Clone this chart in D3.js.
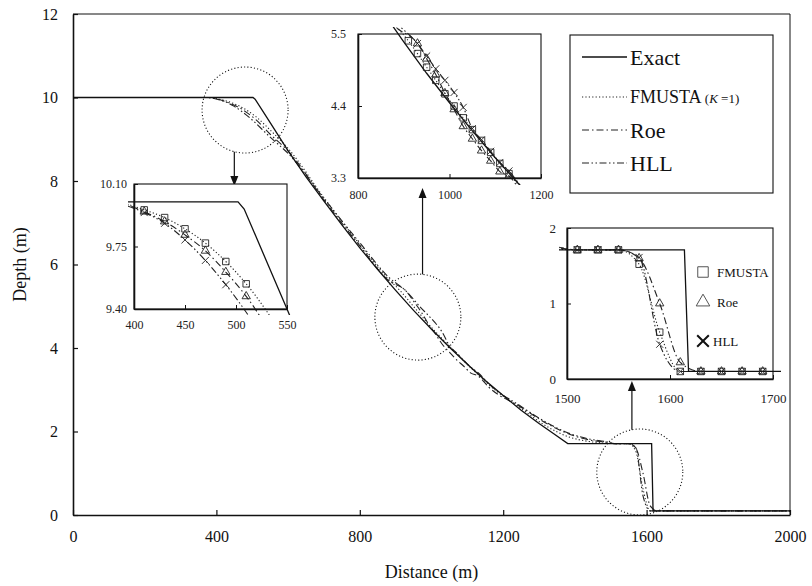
<!DOCTYPE html>
<html>
<head>
<meta charset="utf-8">
<script src="https://cdn.jsdelivr.net/npm/d3@7"></script>
<style>
  body { margin: 0; background: #fff; }
  svg, svg text { font-family: "Liberation Serif", "Times New Roman", "DejaVu Serif", serif; }
</style>
</head>
<body>
<svg id="chart" width="812" height="586"></svg>
<script>
// ---- data: [distance (m), depth (m)] ----
const exact = [[0, 10], [502, 10], [508, 9.96], [550, 9.40], [600, 8.72], [650, 8.10], [700, 7.52],
  [750, 6.95], [800, 6.40], [850, 5.88], [900, 5.38], [950, 4.90], [1000, 4.45], [1050, 4.02],
  [1100, 3.61], [1150, 3.22], [1200, 2.86], [1250, 2.51], [1300, 2.19], [1340, 1.95], [1380, 1.71],
  [1614, 1.71], [1618, 0.1], [2000, 0.1]];

// numerical solutions away from the zoomed windows
const fmustaMain = [[0, 10], [380, 10], [550, 9.22], [600, 8.78], [700, 7.60], [800, 6.48], [880, 5.65],
  [1160, 3.12], [1250, 2.55], [1320, 2.13], [1380, 1.88], [1440, 1.76], [1490, 1.72], [1710, 0.1], [2000, 0.1]];
const roeMain = [[0, 10], [380, 10], [550, 9.12], [600, 8.72], [700, 7.55], [800, 6.45], [880, 5.62],
  [1160, 3.06], [1250, 2.58], [1320, 2.20], [1380, 1.95], [1440, 1.80], [1490, 1.74], [1710, 0.1], [2000, 0.1]];
const hllMain = [[0, 10], [370, 10], [550, 9.05], [600, 8.66], [700, 7.58], [800, 6.52], [880, 5.70],
  [1160, 3.14], [1250, 2.60], [1320, 2.22], [1380, 1.97], [1440, 1.82], [1490, 1.75], [1710, 0.1], [2000, 0.1]];

// marker points shown in the zoom windows
const fmustaTop = [[410, 9.955], [430, 9.912], [450, 9.849], [470, 9.769], [490, 9.666], [510, 9.541]];
const roeTop = [[410, 9.945], [430, 9.890], [450, 9.815], [470, 9.726], [490, 9.607], [510, 9.471]];
const hllTop = [[410, 9.940], [430, 9.880], [450, 9.787], [470, 9.672], [490, 9.536]];

const fmustaMid = [[910, 5.396], [930, 5.201], [950, 4.993], [970, 4.792], [990, 4.586], [1010, 4.40],
  [1030, 4.219], [1050, 4.039], [1070, 3.874], [1090, 3.692], [1110, 3.522], [1130, 3.367]];
const roeMid = [[930, 5.355], [950, 5.123], [970, 4.880], [990, 4.596], [1010, 4.348], [1030, 4.090],
  [1050, 3.899], [1070, 3.718], [1090, 3.563], [1110, 3.398], [1130, 3.33]];
const hllMid = [[930, 5.355], [950, 5.164], [970, 4.968], [990, 4.792], [1010, 4.607], [1030, 4.379],
  [1050, 4.054], [1070, 3.884], [1090, 3.708], [1110, 3.537], [1130, 3.408]];

const fmustaFront = [[1510, 1.71], [1530, 1.71], [1550, 1.71], [1570, 1.52], [1590, 0.62], [1610, 0.10],
  [1630, 0.10], [1650, 0.10], [1670, 0.10], [1690, 0.10]];
const roeFront = [[1510, 1.71], [1530, 1.71], [1550, 1.71], [1570, 1.60], [1590, 1.00], [1610, 0.22],
  [1630, 0.10], [1650, 0.10], [1670, 0.10], [1690, 0.10]];
const hllFront = [[1510, 1.71], [1530, 1.71], [1550, 1.71], [1570, 1.61], [1590, 0.46], [1610, 0.10],
  [1630, 0.10], [1650, 0.10], [1670, 0.10], [1690, 0.10]];

const xTicks = [0, 400, 800, 1200, 1600, 2000];
const yTicks = [0, 2, 4, 6, 8, 10, 12];
const legendNames = ["Exact", "FMUSTA", "Roe", "HLL"];

// ---- drawing ----
const SERIF = '"Liberation Serif", "Times New Roman", "DejaVu Serif", serif';
const merge = (...parts) => [].concat(...parts).sort((a, b) => a[0] - b[0]);
const fmusta = merge(fmustaMain, fmustaTop, fmustaMid, fmustaFront);
const roe = merge(roeMain, roeTop, roeMid, roeFront);
const hll = merge(hllMain, hllTop, hllMid, hllFront);

const styles = {
  Exact: { dash: null, w: 1.3, c: "#111", curve: d3.curveLinear },
  FMUSTA: { dash: "1.2,2.2", w: 1.1, c: "#222", curve: d3.curveMonotoneX },
  Roe: { dash: "7,3,1.5,3", w: 1.1, c: "#222", curve: d3.curveMonotoneX },
  HLL: { dash: "7,2.5,1.5,2.5,1.5,2.5", w: 1.1, c: "#222", curve: d3.curveMonotoneX }
};
const seriesData = { Exact: exact, FMUSTA: fmusta, Roe: roe, HLL: hll };

const svg = d3.select("#chart");
svg.append("rect").attr("width", 812).attr("height", 586).attr("fill", "#fff");

const x = d3.scaleLinear().domain([0, 2000]).range([73, 790]);
const y = d3.scaleLinear().domain([0, 12]).range([515, 14]);

function drawSeries(g, sx, sy, clip) {
  ["HLL", "Roe", "FMUSTA", "Exact"].forEach(name => {
    const st = styles[name];
    const line = d3.line().x(d => sx(d[0])).y(d => sy(d[1])).curve(st.curve);
    g.append("path")
      .datum(seriesData[name])
      .attr("d", line)
      .attr("fill", "none")
      .attr("stroke", st.c)
      .attr("stroke-width", st.w)
      .attr("stroke-dasharray", st.dash)
      .attr("clip-path", clip ? `url(#${clip})` : null);
  });
}

// main lines
drawSeries(svg.append("g"), x, y, null);

// frame
svg.append("path")
  .attr("d", `M${x(0)},${y(12)}H${x(2000)}V${y(0)}`)
  .attr("fill", "none").attr("stroke", "#111").attr("stroke-width", 1);

// axes with inward ticks
const xAxis = svg.append("g")
  .attr("transform", `translate(0,${y(0)})`)
  .call(d3.axisBottom(x).tickValues(xTicks).tickFormat(d3.format("d"))
    .tickSizeInner(-5).tickSizeOuter(0).tickPadding(16));
const yAxis = svg.append("g")
  .attr("transform", `translate(${x(0)},0)`)
  .call(d3.axisLeft(y).tickValues(yTicks).tickFormat(d3.format("d"))
    .tickSizeInner(-5).tickSizeOuter(0).tickPadding(15));
[xAxis, yAxis].forEach(a => {
  a.attr("font-family", SERIF);
  a.select(".domain").attr("stroke", "#111").attr("stroke-width", 1.6);
  a.selectAll(".tick line").attr("stroke", "#111").attr("stroke-width", 1.2);
  a.selectAll("text").attr("font-size", 16).attr("fill", "#111");
});

svg.append("text")
  .attr("x", (x(0) + x(2000)) / 2).attr("y", 578)
  .attr("text-anchor", "middle").attr("font-size", 18).attr("fill", "#111")
  .text("Distance (m)");
svg.append("text")
  .attr("transform", `translate(26,${(y(0) + y(12)) / 2}) rotate(-90)`)
  .attr("text-anchor", "middle").attr("font-size", 18).attr("fill", "#111")
  .text("Depth (m)");

// dotted circles and arrows pointing to the zoom windows
const arrowHead = (g, px, tip, dir) => {
  g.append("path")
    .attr("d", `M${px},${tip}L${px - 4},${tip - dir * 10}L${px + 4},${tip - dir * 10}Z`)
    .attr("fill", "#111");
};
const zooms = [
  { cx: 480, cy: 9.7, ax: 450, to: 186, dir: 1 },
  { cx: 962, cy: 4.74, ax: 975, to: 188, dir: -1 },
  { cx: 1581, cy: 1.03, ax: 1559, to: 381, dir: -1 }
];
const R = 43;
const ann = svg.append("g");
zooms.forEach(z => {
  const cx = x(z.cx), cy = y(z.cy), ax = x(z.ax);
  ann.append("circle").attr("cx", cx).attr("cy", cy).attr("r", R)
    .attr("fill", "none").attr("stroke", "#111").attr("stroke-width", 1.1)
    .attr("stroke-dasharray", "1.1,2.2");
  const dy = Math.sqrt(R * R - (ax - cx) * (ax - cx));
  const from = z.dir > 0 ? cy + dy : cy - dy;
  ann.append("line").attr("x1", ax).attr("x2", ax)
    .attr("y1", from).attr("y2", z.to - z.dir * 6)
    .attr("stroke", "#111").attr("stroke-width", 1.2);
  arrowHead(ann, ax, z.to, z.dir);
});

// zoom windows
const marker = {
  FMUSTA: d3.symbol(d3.symbolSquare, 42),
  Roe: d3.symbol(d3.symbolTriangle, 30),
  HLL: d3.symbol(d3.symbolTimes, 34)
};

function drawInset(o) {
  const sx = d3.scaleLinear().domain(o.xd).range([o.box[0], o.box[1]]);
  const sy = d3.scaleLinear().domain(o.yd).range([o.box[3], o.box[2]]);
  const g = svg.append("g");
  g.append("rect")
    .attr("x", o.box[0]).attr("y", o.box[2])
    .attr("width", o.box[1] - o.box[0]).attr("height", o.box[3] - o.box[2])
    .attr("fill", "#fff").attr("stroke", "#111").attr("stroke-width", 1.1);

  svg.append("clipPath").attr("id", o.id).append("rect")
    .attr("x", o.box[0] - o.pad).attr("y", o.box[2] - o.pad)
    .attr("width", o.box[1] - o.box[0] + 2 * o.pad).attr("height", o.box[3] - o.box[2] + 2 * o.pad);
  drawSeries(g, sx, sy, o.id);

  Object.entries(o.marks).forEach(([name, pts]) => {
    g.selectAll(null).data(pts).join("path")
      .attr("transform", d => `translate(${sx(d[0])},${sy(d[1])})`)
      .attr("d", marker[name])
      .attr("fill", "none").attr("stroke", "#222").attr("stroke-width", 0.9);
  });

  const ax = g.append("g").attr("transform", `translate(0,${o.box[3]})`)
    .call(d3.axisBottom(sx).tickValues(o.xt).tickFormat(d3.format("d"))
      .tickSizeInner(-4).tickSizeOuter(0).tickPadding(o.padX));
  const ay = g.append("g").attr("transform", `translate(${o.box[0]},0)`)
    .call(d3.axisLeft(sy).tickValues(o.yt).tickFormat(d3.format(o.yf))
      .tickSizeInner(-4).tickSizeOuter(0).tickPadding(o.padY));
  [ax, ay].forEach(a => {
    a.attr("font-family", SERIF);
    a.select(".domain").attr("stroke", "#111").attr("stroke-width", 1.6);
    a.selectAll(".tick line").attr("stroke", "#111");
    a.selectAll("text").attr("font-size", o.fs).attr("fill", "#222");
  });
  return g;
}

drawInset({
  id: "clipMid", box: [358, 541, 34, 178], xd: [800, 1200], yd: [3.3, 5.5], pad: 7,
  xt: [800, 1000, 1200], yt: [3.3, 4.4, 5.5], yf: ".1f", fs: 12, padX: 12, padY: 12,
  marks: { FMUSTA: fmustaMid, Roe: roeMid, HLL: hllMid }
});
drawInset({
  id: "clipTop", box: [134, 287, 184, 309], xd: [400, 550], yd: [9.40, 10.10], pad: 6,
  xt: [400, 450, 500, 550], yt: [9.40, 9.75, 10.10], yf: ".2f", fs: 12, padX: 11, padY: 7,
  marks: { FMUSTA: fmustaTop, Roe: roeTop, HLL: hllTop }
});
const front = drawInset({
  id: "clipFront", box: [567, 773, 228, 379], xd: [1500, 1700], yd: [0, 2], pad: 8,
  xt: [1500, 1600, 1700], yt: [0, 1, 2], yf: "d", fs: 13, padX: 15, padY: 11,
  marks: { FMUSTA: fmustaFront, Roe: roeFront, HLL: hllFront }
});

// small key inside the shock window
const key = [
  { name: "FMUSTA", sym: d3.symbolSquare, size: 110, w: 1, tx: 717, cy: 272 },
  { name: "Roe", sym: d3.symbolTriangle, size: 80, w: 1, tx: 717, cy: 302 },
  { name: "HLL", sym: d3.symbolTimes, size: 90, w: 2, tx: 713, cy: 341 }
];
key.forEach(k => {
  front.append("path")
    .attr("transform", `translate(703,${k.cy})`)
    .attr("d", d3.symbol(k.sym, k.size))
    .attr("fill", "none").attr("stroke", k.name === "HLL" ? "#111" : "#555").attr("stroke-width", k.w);
  front.append("text").attr("x", k.tx).attr("y", k.cy).attr("dy", "0.35em")
    .attr("font-size", 13).attr("fill", "#111").text(k.name);
});

// legend
const leg = svg.append("g");
leg.append("rect").attr("x", 570).attr("y", 35).attr("width", 203).attr("height", 158)
  .attr("fill", "#fff").attr("stroke", "#111").attr("stroke-width", 1.1);
const legY = [57, 97, 130, 163];
legendNames.forEach((name, i) => {
  const st = styles[name];
  leg.append("line").attr("x1", 582).attr("x2", 627).attr("y1", legY[i]).attr("y2", legY[i])
    .attr("stroke", st.c).attr("stroke-width", st.w).attr("stroke-dasharray", st.dash);
  const t = leg.append("text").attr("x", 630).attr("y", legY[i]).attr("dy", "0.35em")
    .attr("fill", "#111").attr("font-size", name === "FMUSTA" ? 18 : 22).text(name);
  if (name === "FMUSTA") {
    t.append("tspan").attr("font-size", 13).text(" (");
    t.append("tspan").attr("font-size", 13).attr("font-style", "italic").text("K");
    t.append("tspan").attr("font-size", 13).text(" =1)");
  }
});
</script>
</body>
</html>
